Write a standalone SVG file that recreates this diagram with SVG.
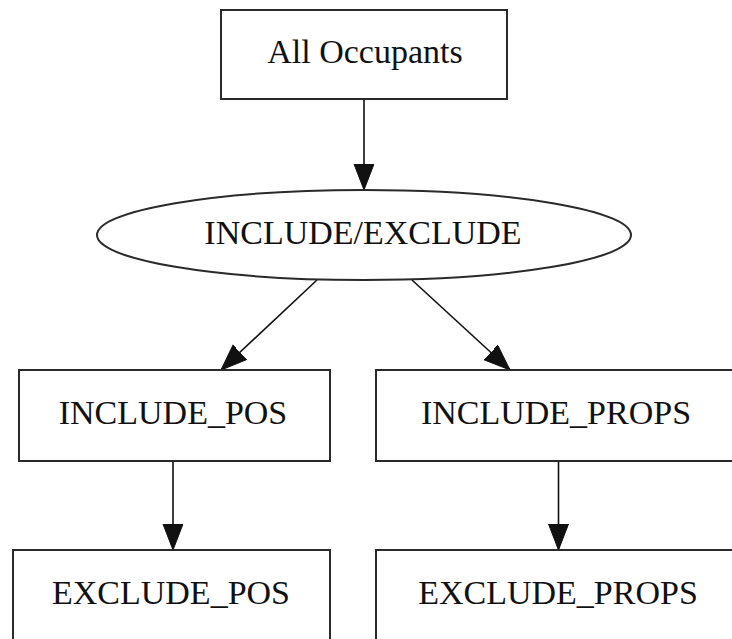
<svg xmlns="http://www.w3.org/2000/svg" width="732" height="639" viewBox="0 0 732 639">
<style>
.node{fill:#fff;stroke:#2a2a2a;stroke-width:2}
.lbl{font-family:"Liberation Serif","Times New Roman",serif;font-size:34px;fill:#111;text-anchor:middle}
.edge{fill:none;stroke:#111;stroke-width:1.6}
</style>
<defs>
<marker id="arr" markerUnits="userSpaceOnUse" markerWidth="27" markerHeight="21" refX="26" refY="10" orient="auto">
<path d="M0,0 L26,10 L0,20 Z" fill="#111" stroke="#111" stroke-width="1"/>
</marker>
</defs>
<rect width="732" height="639" fill="#fff"/>
<g id="edges">
<path class="edge" d="M364,100 L364,190" marker-end="url(#arr)"/>
<path class="edge" d="M317,280 L221,370" marker-end="url(#arr)"/>
<path class="edge" d="M412,280 L510,370" marker-end="url(#arr)"/>
<path class="edge" d="M173,461 L173,550" marker-end="url(#arr)"/>
<path class="edge" d="M558.5,461 L558.5,550" marker-end="url(#arr)"/>
</g>
<g id="all_occupants">
<rect class="node" x="221" y="10" width="286" height="89"/>
<text class="lbl" x="365" y="63">All Occupants</text>
</g>
<g id="include_exclude">
<ellipse class="node" cx="364" cy="235" rx="267" ry="45"/>
<text class="lbl" x="363" y="244">INCLUDE/EXCLUDE</text>
</g>
<g id="include_pos">
<rect class="node" x="19" y="370" width="311" height="91"/>
<text class="lbl" x="173" y="424">INCLUDE_POS</text>
</g>
<g id="include_props">
<rect class="node" x="376" y="370" width="370" height="91"/>
<text class="lbl" x="556" y="424">INCLUDE_PROPS</text>
</g>
<g id="exclude_pos">
<rect class="node" x="13" y="550" width="317" height="100"/>
<text class="lbl" x="171" y="604">EXCLUDE_POS</text>
</g>
<g id="exclude_props">
<rect class="node" x="376" y="550" width="370" height="100"/>
<text class="lbl" x="558" y="604">EXCLUDE_PROPS</text>
</g>
</svg>
